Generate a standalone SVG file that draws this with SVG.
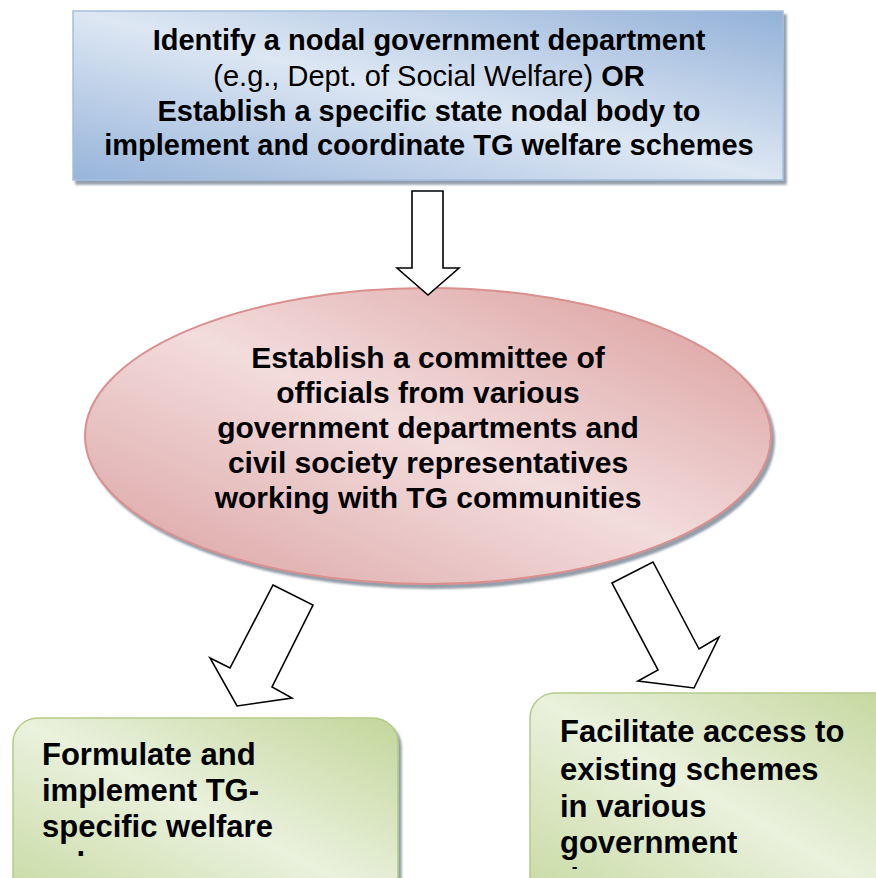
<svg xmlns="http://www.w3.org/2000/svg" width="876" height="878" viewBox="0 0 876 878">
<style>
text{font-family:"Liberation Sans",Arial,sans-serif;fill:#000}
.b{font-weight:bold}
.n{font-weight:normal}
.arrow{fill:#fff;stroke:#000;stroke-width:1.6;stroke-linejoin:miter}
</style>
<defs>
<linearGradient id="gBlue" x1="0" y1="1" x2="1" y2="0">
<stop offset="0" stop-color="#97b4da"/>
<stop offset="0.5" stop-color="#dde7f3"/>
<stop offset="1" stop-color="#93b1d8"/>
</linearGradient>
<linearGradient id="gPink" x1="0" y1="1" x2="1" y2="0">
<stop offset="0" stop-color="#daa0a0"/>
<stop offset="0.5" stop-color="#f3dcdc"/>
<stop offset="1" stop-color="#d89a99"/>
</linearGradient>
<linearGradient id="gGreen" x1="0" y1="1" x2="1" y2="0">
<stop offset="0" stop-color="#c6d9a0"/>
<stop offset="0.5" stop-color="#eaf1dd"/>
<stop offset="1" stop-color="#c3d69b"/>
</linearGradient>
<filter id="sh" x="-5%" y="-5%" width="115%" height="120%">
<feDropShadow dx="3" dy="4" stdDeviation="1" flood-color="#6f7f8f" flood-opacity="0.75"/>
</filter>
<clipPath id="clipL"><rect x="13" y="718" width="386" height="138"/></clipPath>
<clipPath id="clipR"><rect x="530" y="693" width="346" height="176"/></clipPath>
</defs>

<g id="node-top">
<rect x="73" y="11" width="710" height="169" fill="url(#gBlue)" stroke="#a6bfdf" stroke-width="1.5" filter="url(#sh)"/>
<text x="429" y="50" font-size="29" text-anchor="middle" class="b">Identify a nodal government department</text>
<text x="429" y="86" font-size="29" text-anchor="middle"><tspan class="n">(e.g., Dept. of Social Welfare) </tspan><tspan class="b">OR</tspan></text>
<text x="429" y="121" font-size="29" text-anchor="middle" class="b">Establish a specific state nodal body to</text>
<text x="429" y="155" font-size="29" text-anchor="middle" class="b">implement and coordinate TG welfare schemes</text>
</g>

<g id="node-committee">
<ellipse cx="428" cy="436" rx="343" ry="148" fill="url(#gPink)" stroke="#d9908f" stroke-width="2" filter="url(#sh)"/>
<text x="428" y="368" font-size="30" text-anchor="middle" class="b">Establish a committee of</text>
<text x="428" y="403" font-size="30" text-anchor="middle" class="b">officials from various</text>
<text x="428" y="438" font-size="30" text-anchor="middle" class="b">government departments and</text>
<text x="428" y="473" font-size="30" text-anchor="middle" class="b">civil society representatives</text>
<text x="428" y="508" font-size="30" text-anchor="middle" class="b">working with TG communities</text>
</g>

<g id="node-formulate">
<rect x="13" y="718" width="385" height="190" rx="25" ry="25" fill="url(#gGreen)" stroke="#b4cb88" stroke-width="1.5" filter="url(#sh)"/>
<g clip-path="url(#clipL)">
<text x="42" y="765" font-size="31" class="b">Formulate and</text>
<text x="42" y="801" font-size="31" class="b">implement TG-</text>
<text x="42" y="837" font-size="31" class="b">specific welfare</text>
<text x="42" y="874" font-size="31" class="b">schemes</text>
</g>
</g>

<g id="node-facilitate">
<rect x="530" y="693" width="380" height="215" rx="25" ry="25" fill="url(#gGreen)" stroke="#b4cb88" stroke-width="1.5" filter="url(#sh)"/>
<g clip-path="url(#clipR)">
<text x="560" y="742" font-size="31" class="b">Facilitate access to</text>
<text x="560" y="780" font-size="31" class="b">existing schemes</text>
<text x="560" y="817" font-size="31" class="b">in various</text>
<text x="560" y="853" font-size="31" class="b">government</text>
<text x="560" y="890" font-size="31" class="b">departments</text>
</g>
</g>

<g id="connectors">
<polygon class="arrow" points="412,191 443,191 443,268 459,268 428,295 397,268 412,268"/>
<polygon class="arrow" points="273,585 313,605 272,687 292,698 237,706 210,658 230,668"/>
<polygon class="arrow" points="612,583 653,562 699,649 719,637 694,688 638,681 658,670"/>
</g>
</svg>
